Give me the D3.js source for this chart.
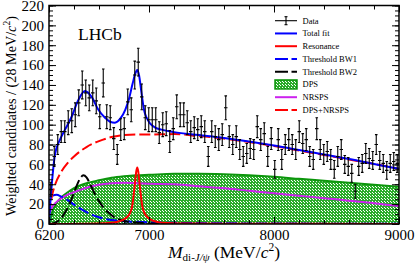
<!DOCTYPE html>
<html><head><meta charset="utf-8">
<script src="https://cdn.jsdelivr.net/npm/d3@7"></script>
<style>
body{margin:0;background:#fff}
svg{display:block}
text{font-family:"Liberation Serif","Times New Roman",serif;fill:#000}
</style>
</head><body><svg id="c" width="415" height="266"></svg>
<script>
// ---------- data ----------
const massRange = [6200, 9000];
const binWidth = 28;
const dataValues = [35,68,80,93,93,102,104,110,122,140,
  132,127,132,124,108,142,108,107,86,70,
  95,96,123,115,150,163,128,107,105,105,
  105,92,100,101,83,96,118,110,110,102,
  93,97,95,98,93,68,93,88,85,90,
  117,88,80,88,75,68,71,76,75,98,
  85,91,68,86,55,85,65,80,85,80,
  75,93,81,85,68,65,96,75,70,73,
  65,55,68,75,60,58,51,33,58,61,
  71,66,64,80,64,61,54,61,63,61];
const dataErrors = [7,10,10,11,11,12,12,12,13,14,
  13,13,13,13,12,14,12,12,11,10,
  11,11,13,12,14,14,13,12,12,12,
  12,11,12,12,11,11,12,12,12,12,
  11,11,11,11,11,10,11,11,11,11,
  12,11,10,11,10,10,10,10,10,11,
  11,11,10,11,9,11,10,10,11,10,
  10,11,10,11,10,10,11,10,10,10,
  10,9,10,10,9,9,9,7,9,9,
  10,10,9,10,9,9,9,9,9,9];

const bkgMass  = [6200,6225,6250,6300,6350,6400,6500,6600,6700,6800,6900,7000,7200,7400,7600,7800,8000,8200,8400,8600,8800,9000];
const dpsValues   = [0,12,19,27,32,36,41,44,46.5,48,49,49.5,50.5,50.5,50,49,47.5,45.5,43.5,41.5,39.5,37.5];
const nrspsValues = [10,17,21,26,29.5,32,36.5,39.5,41,41.5,41,40.5,40,38,36,33.5,31,28.5,26,23.5,21,18];

const totalMass   = [6200,6208,6221,6248,6288,6328,6381,6435,6488,6541,6595,6648,6688,6728,6770,6810,6840,6870,6895,6906,6920,6940,6960,6981,7010,7050,7100,7200,7400,7600,7800,8000,8200,8400,8600,8800,9000];
const totalValues = [0,17,38,70,85,95,108,125,134,128,115,107,103,102,106,115,126,142,153,155,150,132,115,107,101,97,95,92.5,89.5,86.5,83,79,74.5,70,65.5,60.5,55.5];

const resMass   = [6200,6600,6700,6750,6800,6830,6850,6865,6880,6890,6898,6906,6914,6922,6932,6947,6962,6982,7010,7060,7106,7300,7600,9000];
const resValues = [0.1,0.6,1.3,2.3,4.7,7.6,11.5,17.6,32,44,53,57,53,44,32,17.6,11.5,7.6,4.7,2.3,1.3,0.5,0.3,0.1];

const bw1Mass   = [6200,6210,6230,6260,6300,6350,6400,6450,6500,6550,6600,6650,6700,6800,6900,7000,7200,7500,8000,8500,9000];
const bw1Values = [14,24,28.5,29.5,27.5,24,19.5,15.5,12,9,6.8,5,4,2.8,2.2,1.7,1.2,0.8,0.5,0.3,0.2];

const bw2Mass   = [6200,6230,6260,6300,6330,6360,6390,6420,6450,6475,6500,6530,6560,6600,6640,6680,6720,6760,6800,6900,7000,7200,7500,9000];
const bw2Values = [0,0.5,2,6,12,19,28,38,46,49,47,40,32,23,16,11,7,4.5,3,1.5,0.8,0.3,0.1,0];

const xLabelTicks = [6200,7000,8000,9000];
const yLabelTicks = [0,20,40,60,80,100,120,140,160,180,200,220];
const legendLabels = ["Data","Total fit","Resonance","Threshold BW1","Threshold BW2","DPS","NRSPS","DPS+NRSPS"];

// ---------- layout ----------
const L = 49, R = 399, T = 5.5, B = 224;
const svg = d3.select('#c');
const x = d3.scaleLinear().domain(massRange).range([L, R]);
const y = d3.scaleLinear().domain([0, 220]).range([B, T]);

const COL = {blue:'#0000ff', red:'#ff0000', black:'#000', green:'#0c960c', magenta:'#cc22ee'};

const defs = svg.append('defs');
const pat = defs.append('pattern').attr('id','dpsPat').attr('patternUnits','userSpaceOnUse')
  .attr('width',3).attr('height',3);
pat.append('rect').attr('width',3).attr('height',3).attr('fill','#2aac2a').attr('shape-rendering','crispEdges');
pat.append('rect').attr('x',1).attr('y',1).attr('width',1).attr('height',1).attr('fill','#ffffff').attr('shape-rendering','crispEdges');
pat.append('rect').attr('x',0).attr('y',0).attr('width',1).attr('height',1).attr('fill','#ffffff').attr('shape-rendering','crispEdges');
defs.append('clipPath').attr('id','clip').append('rect')
  .attr('x',L).attr('y',T).attr('width',R-L).attr('height',B-T);

const plot = svg.append('g').attr('clip-path','url(#clip)');

function path(xs, ys){
  return d3.line().x((d,i)=>x(xs[i])).y(d=>y(d)).curve(d3.curveMonotoneX)(ys);
}

// DPS filled area
plot.append('path')
  .attr('d', d3.area().x((d,i)=>x(bkgMass[i])).y0(y(0)).y1(d=>y(d)).curve(d3.curveMonotoneX)(dpsValues))
  .attr('fill','url(#dpsPat)');
plot.append('path').attr('d', path(bkgMass, dpsValues)).attr('fill','none')
  .attr('stroke',COL.green).attr('stroke-width',2);
// NRSPS
plot.append('path').attr('d', path(bkgMass, nrspsValues)).attr('fill','none')
  .attr('stroke',COL.magenta).attr('stroke-width',2);
// BW1
plot.append('path').attr('d', path(bw1Mass, bw1Values)).attr('fill','none')
  .attr('stroke',COL.blue).attr('stroke-width',2).attr('stroke-dasharray','11,4');
// BW2
plot.append('path').attr('d', path(bw2Mass, bw2Values)).attr('fill','none')
  .attr('stroke',COL.black).attr('stroke-width',2).attr('stroke-dasharray','11,4');
// Resonance
plot.append('path').attr('d', path(resMass, resValues)).attr('fill','none')
  .attr('stroke',COL.red).attr('stroke-width',2);
// DPS+NRSPS
const sumValues = dpsValues.map((v,i)=>v+nrspsValues[i]);
plot.append('path').attr('d', path(bkgMass, sumValues)).attr('fill','none')
  .attr('stroke',COL.red).attr('stroke-width',2).attr('stroke-dasharray','11,4');
// Total fit
plot.append('path').attr('d', path(totalMass, totalValues)).attr('fill','none')
  .attr('stroke',COL.blue).attr('stroke-width',2);

// Data points
const dg = plot.append('g').attr('stroke','#000').attr('stroke-width',1.1);
dataValues.forEach((v,i)=>{
  const lo = massRange[0] + binWidth*i, hi = lo + binWidth, c = lo + binWidth/2;
  const e = dataErrors[i];
  dg.append('line').attr('x1',x(lo)).attr('x2',x(hi)).attr('y1',y(v)).attr('y2',y(v));
  dg.append('line').attr('x1',x(c)).attr('x2',x(c)).attr('y1',y(v-e)).attr('y2',y(v+e));
  dg.append('line').attr('x1',x(c)-1.3).attr('x2',x(c)+1.3).attr('y1',y(v-e)).attr('y2',y(v-e));
  dg.append('line').attr('x1',x(c)-1.3).attr('x2',x(c)+1.3).attr('y1',y(v+e)).attr('y2',y(v+e));
});

// ---------- axes ----------
const ax = svg.append('g');
function noDomain(g){ g.select('.domain').remove(); }
const xMinor = d3.range(massRange[0], massRange[1]+1, 200);
const yMinor = d3.range(0, 221, 5);
// bottom
ax.append('g').attr('transform',`translate(0,${B})`)
  .call(d3.axisBottom(x).tickValues(xMinor).tickSize(-4).tickFormat('')).call(noDomain);
ax.append('g').attr('transform',`translate(0,${B})`)
  .call(d3.axisBottom(x).tickValues(xLabelTicks).tickSize(-7).tickPadding(5).tickFormat(d3.format('d'))).call(noDomain);
// top
ax.append('g').attr('transform',`translate(0,${T})`)
  .call(d3.axisTop(x).tickValues(xMinor).tickSize(-4).tickFormat('')).call(noDomain);
ax.append('g').attr('transform',`translate(0,${T})`)
  .call(d3.axisTop(x).tickValues(xLabelTicks).tickSize(-7).tickFormat('')).call(noDomain);
// left
ax.append('g').attr('transform',`translate(${L},0)`)
  .call(d3.axisLeft(y).tickValues(yMinor).tickSize(-4).tickFormat('')).call(noDomain);
ax.append('g').attr('transform',`translate(${L},0)`)
  .call(d3.axisLeft(y).tickValues(yLabelTicks).tickSize(-7).tickPadding(5).tickFormat(d3.format('d'))).call(noDomain);
// right
ax.append('g').attr('transform',`translate(${R},0)`)
  .call(d3.axisRight(y).tickValues(yMinor).tickSize(-4).tickFormat('')).call(noDomain);
ax.append('g').attr('transform',`translate(${R},0)`)
  .call(d3.axisRight(y).tickValues(yLabelTicks).tickSize(-7).tickFormat('')).call(noDomain);
ax.selectAll('.tick line').attr('stroke','#000').attr('stroke-width',1);
ax.selectAll('.tick text').attr('font-family','Liberation Serif').attr('font-size',15).attr('fill','#000');

svg.append('rect').attr('x',L).attr('y',T).attr('width',R-L).attr('height',B-T)
  .attr('fill','none').attr('stroke','#000').attr('stroke-width',1.5);

// ---------- titles ----------
svg.append('text').attr('x',78).attr('y',39.5).attr('font-size',17.5).text('LHCb');

const yt = svg.append('text').attr('transform','translate(16,116) rotate(-90)')
  .attr('text-anchor','middle').attr('font-size',14.2);
yt.append('tspan').text('Weighted candidates / (28 MeV/');
yt.append('tspan').attr('font-style','italic').text('c');
yt.append('tspan').attr('font-size',9.5).attr('dy',-6).text('2');
yt.append('tspan').attr('dy',6).text(')');

const xt = svg.append('text').attr('x',224).attr('y',257.5).attr('text-anchor','middle').attr('font-size',17.5);
xt.append('tspan').attr('font-style','italic').text('M');
xt.append('tspan').attr('font-size',11).attr('dy',3).text('di-');
xt.append('tspan').attr('font-size',11).attr('font-style','italic').text('J/ψ');
xt.append('tspan').attr('dy',-3).text(' (MeV/');
xt.append('tspan').attr('font-style','italic').text('c');
xt.append('tspan').attr('font-size',11.5).attr('dy',-7).text('2');
xt.append('tspan').attr('dy',7).text(')');

// ---------- legend ----------
const lg = svg.append('g');
const lx0 = 275, lx1 = 297, ltx = 302.5, ly0 = 20.7, lstep = 12.75;
const styles = [
  {type:'data'},
  {type:'line', color:COL.blue},
  {type:'line', color:COL.red},
  {type:'line', color:COL.blue, dash:'13,3.5'},
  {type:'line', color:COL.black, dash:'13,3.5'},
  {type:'box'},
  {type:'line', color:COL.magenta},
  {type:'line', color:COL.red, dash:'13,3.5'}
];
legendLabels.forEach((lab,i)=>{
  const yy = ly0 + lstep*i, s = styles[i];
  if (s.type==='data'){
    const cx = (lx0+lx1)/2;
    lg.append('line').attr('x1',lx0).attr('x2',lx1).attr('y1',yy).attr('y2',yy).attr('stroke','#000').attr('stroke-width',1.1);
    lg.append('line').attr('x1',cx).attr('x2',cx).attr('y1',yy-4).attr('y2',yy+4).attr('stroke','#000').attr('stroke-width',1.1);
    lg.append('line').attr('x1',cx-1.5).attr('x2',cx+1.5).attr('y1',yy-4).attr('y2',yy-4).attr('stroke','#000').attr('stroke-width',1.1);
    lg.append('line').attr('x1',cx-1.5).attr('x2',cx+1.5).attr('y1',yy+4).attr('y2',yy+4).attr('stroke','#000').attr('stroke-width',1.1);
  } else if (s.type==='box'){
    lg.append('rect').attr('x',lx0).attr('y',yy-4.5).attr('width',lx1-lx0).attr('height',9)
      .attr('fill','url(#dpsPat)').attr('stroke',COL.green).attr('stroke-width',1.5);
  } else {
    lg.append('line').attr('x1',lx0).attr('x2',lx1).attr('y1',yy).attr('y2',yy)
      .attr('stroke',s.color).attr('stroke-width',2).attr('stroke-dasharray',s.dash||null);
  }
  lg.append('text').attr('x',ltx).attr('y',yy+3).attr('font-size',8.5).attr('fill','#222').text(lab);
});
</script>
</body></html>
